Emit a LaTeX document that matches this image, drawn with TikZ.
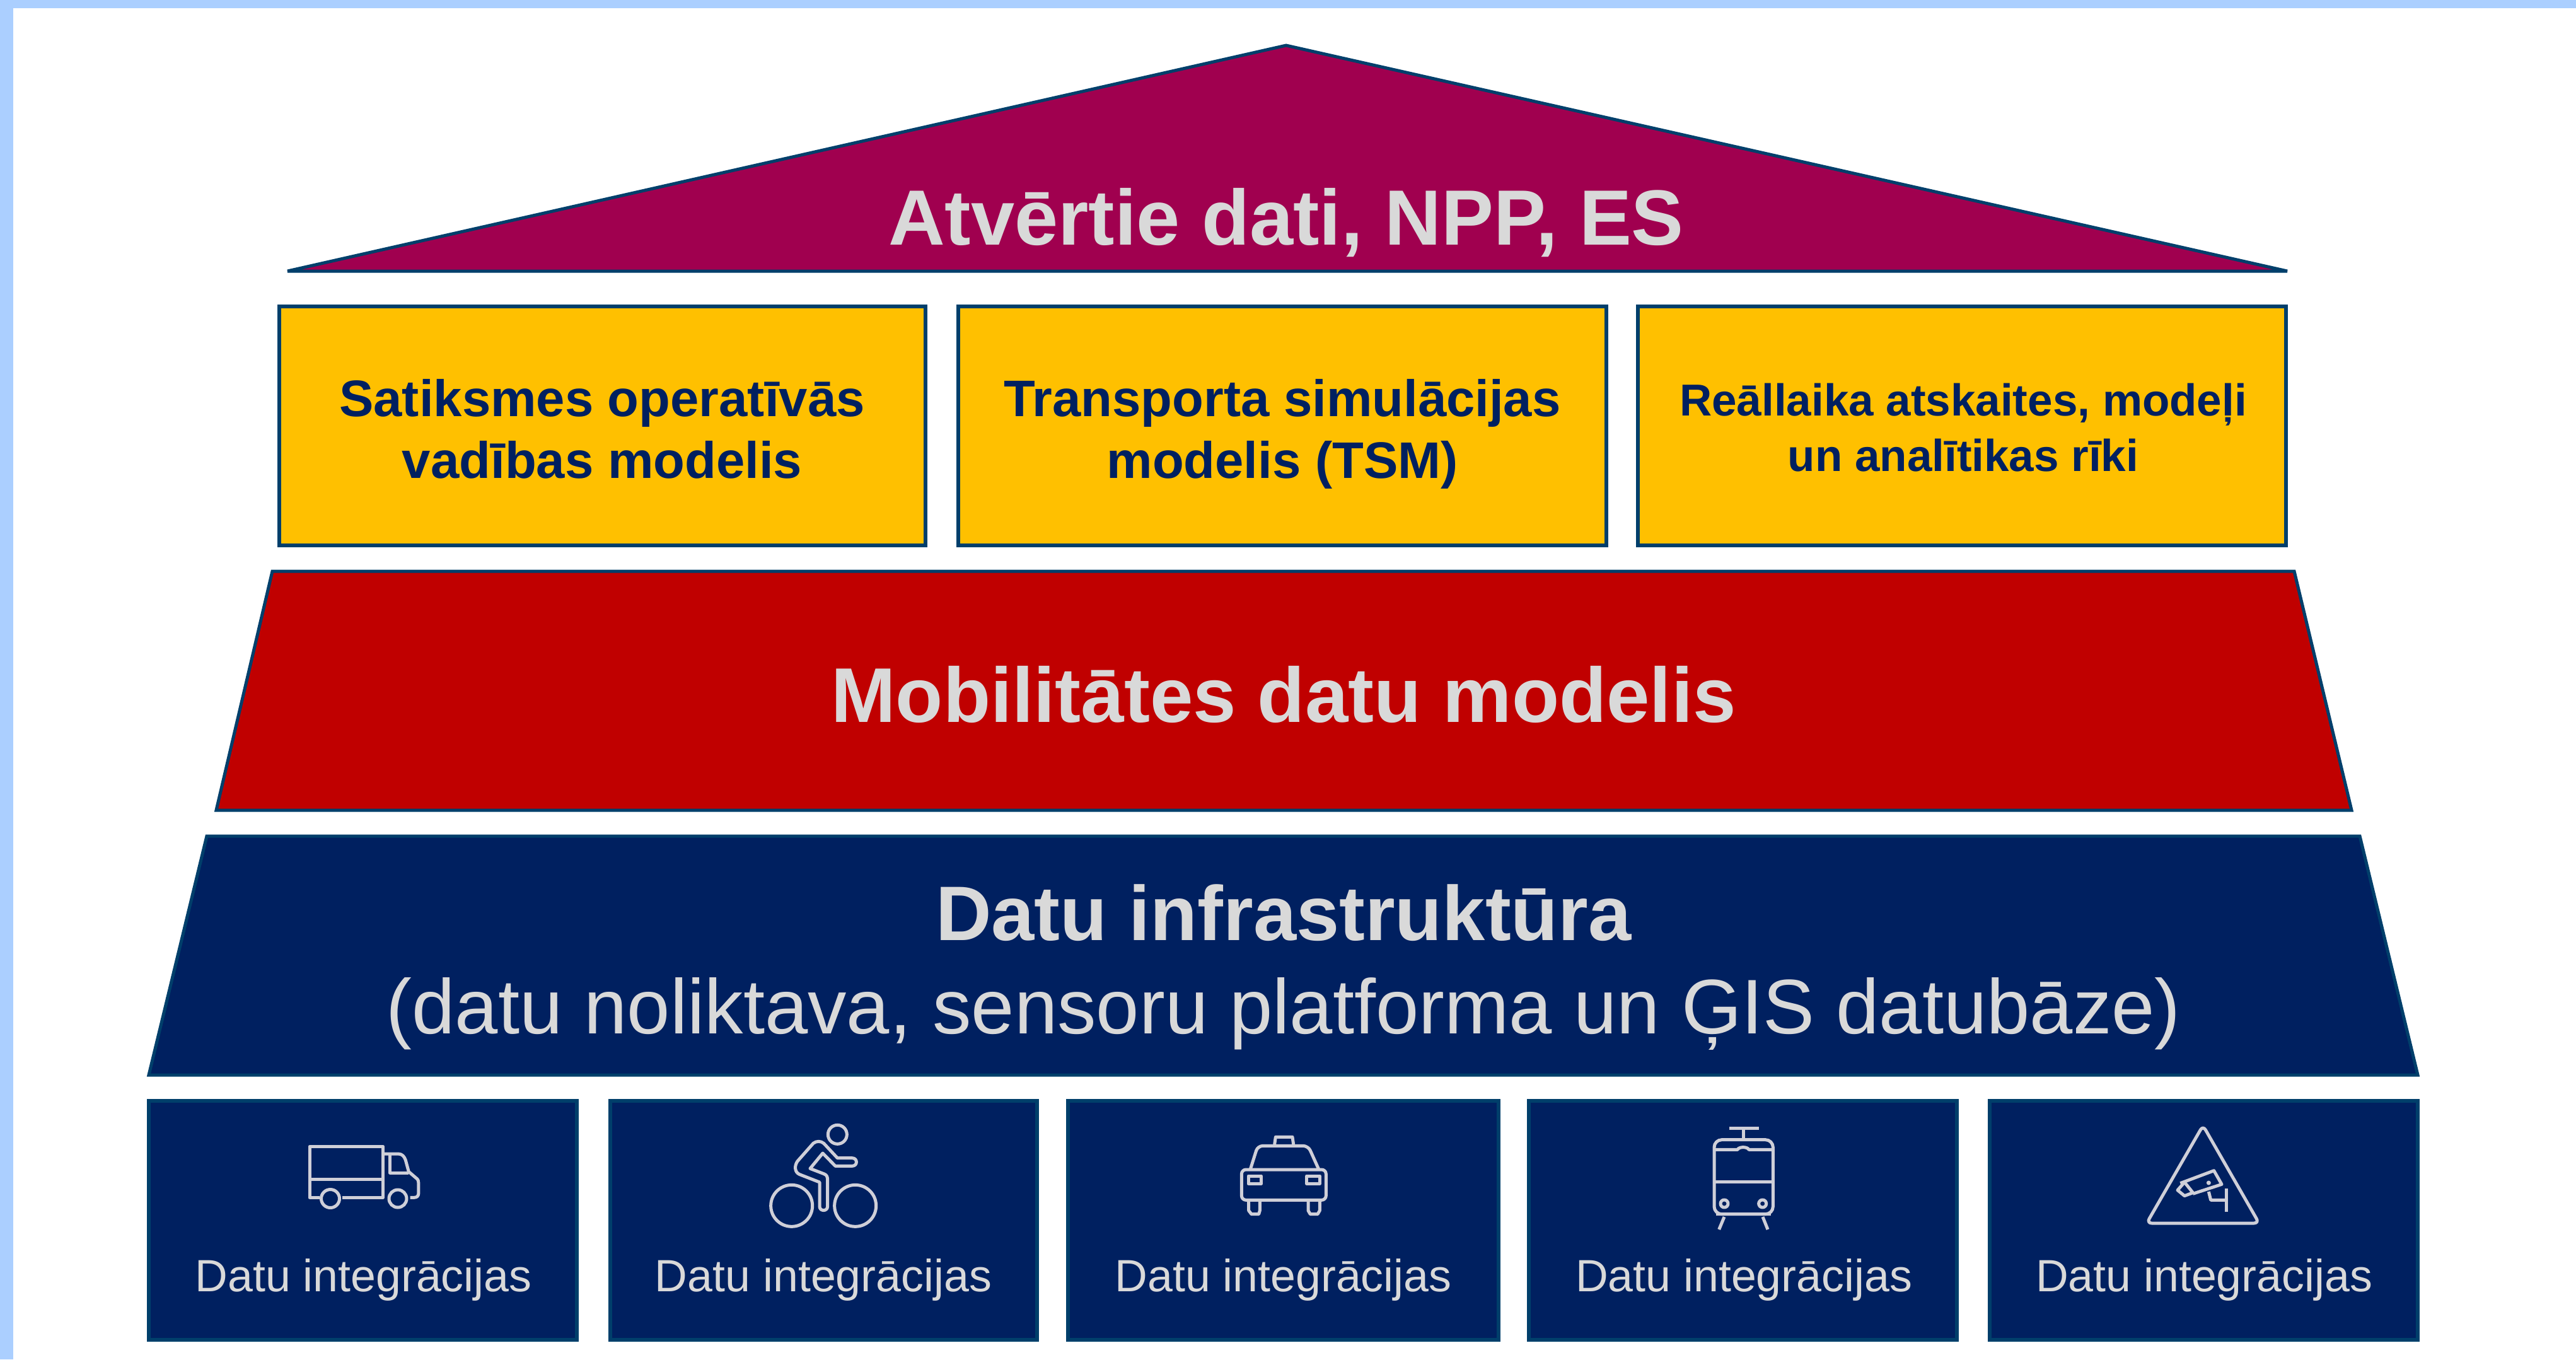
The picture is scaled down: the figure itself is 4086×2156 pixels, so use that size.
\documentclass[tikz,border=0pt]{standalone}
\usepackage{fontspec}
\setmainfont{Liberation Sans}
\definecolor{edgeblue}{HTML}{003F6B}
\definecolor{navy}{HTML}{002060}
\definecolor{roofc}{HTML}{A0004F}
\definecolor{redc}{HTML}{C00000}
\definecolor{yellowc}{HTML}{FFC000}
\definecolor{lightt}{HTML}{D9D9D9}
\definecolor{bandc}{HTML}{ABCFFF}
\definecolor{iconc}{HTML}{CFCFD8}
\tikzset{
  layer/.style={draw=edgeblue,line width=5pt,line join=miter,miter limit=4},
  ybox/.style={draw=edgeblue,line width=6pt,fill=yellowc,minimum height=379pt,inner sep=0pt,outer sep=0pt},
  ibox/.style={draw=edgeblue,line width=6pt,fill=navy,minimum height=379pt,inner sep=0pt,outer sep=0pt},
  ytext/.style={text=navy,align=center,font=\bfseries\fontsize{81.5}{98}\selectfont,inner sep=0pt},
  ytextb/.style={text=navy,align=center,font=\bfseries\fontsize{71}{88}\selectfont,inner sep=0pt},
  itext/.style={text=lightt,anchor=base,inner sep=0pt,font=\fontsize{71.7}{86}\selectfont},
  headt/.style={text=lightt,anchor=base,inner sep=0pt},
  icon/.style={draw=iconc,line width=5pt,line cap=butt,line join=round}
}
\begin{document}
\begin{tikzpicture}[x=1pt,y=-1pt]
\useasboundingbox (0,0) rectangle (4086,2156);
\fill[white] (0,0) rectangle (4086,2156);
\fill[bandc] (0,0) rectangle (4086,13);
\fill[bandc] (0,0) rectangle (21,2156);
% roof
\path[layer,fill=roofc] (2040,72) -- (3628,430) -- (456,430) -- cycle;
\node[headt,font=\bfseries\fontsize{124.3}{140}\selectfont] (roof) at (2040,388) {Atvērtie dati, NPP, ES};
% yellow boxes
\node[ybox,minimum width=1025pt] (y1) at (955,675.5) {};
\node[ybox,minimum width=1028pt] (y2) at (2034,675.5) {};
\node[ybox,minimum width=1028pt] (y3) at (3112,675.5) {};
\node[ytext] (t1) at (955,680) {Satiksmes operatīvās\\vadības modelis};
\node[ytext] (t2) at (2034,688) {Transporta simulācijas\\modelis (TSM)};
\node[ytextb] (t3) at (3114,678) {Reāllaika atskaites, modeļi\\un analītikas rīki};
% red
\path[layer,fill=redc] (432,906) -- (3639,906) -- (3730,1285) -- (343,1285) -- cycle;
\node[headt,font=\bfseries\fontsize{123}{140}\selectfont] (mob) at (2036,1145) {Mobilitātes datu modelis};
% infrastructure
\path[layer,fill=navy] (328,1326) -- (3743,1326) -- (3835,1705) -- (236,1705) -- cycle;
\node[headt,font=\bfseries\fontsize{122.6}{140}\selectfont] (inf1) at (2036,1491) {Datu infrastruktūra};
\node[headt,font=\fontsize{122.8}{140}\selectfont] (inf2) at (2036,1639) {(datu noliktava, sensoru platforma un ĢIS datubāze)};
% integration boxes
\node[ibox,minimum width=679pt] (b1) at (575.5,1935.5) {};
\node[ibox,minimum width=677pt] (b2) at (1306,1935.5) {};
\node[ibox,minimum width=683pt] (b3) at (2035.5,1935.5) {};
\node[ibox,minimum width=679pt] (b4) at (2764.5,1935.5) {};
\node[ibox,minimum width=679pt] (b5) at (3495.5,1935.5) {};
\node[itext] (i1) at (576.5,2048) {Datu integrācijas};
\node[itext] (i2) at (1306,2048) {Datu integrācijas};
\node[itext] (i3) at (2035.5,2048) {Datu integrācijas};
\node[itext] (i4) at (2766,2048) {Datu integrācijas};
\node[itext] (i5) at (3496,2048) {Datu integrācijas};
% truck
\begin{scope}[shift={(440,1760)},x=0.3333pt,y=-0.3333pt]
\draw[icon] (200,418) -- (153,418) -- (153,175) -- (503,175) -- (503,418) -- (310,418);
\draw[icon] (153,330) -- (503,330);
\draw[icon] (252,423) circle[radius=14.5pt];
\draw[icon] (573,423) circle[radius=14pt];
\draw[icon] (503,210) -- (575,210) .. controls (595,210) and (605,225) .. (610,240) -- (625,295) -- (660,325) .. controls (670,332) and (672,340) .. (672,350) -- (672,395) .. controls (672,410) and (665,418) .. (650,418) -- (632,418);
\draw[icon] (535,212) -- (535,300) -- (625,300);
\end{scope}
% cyclist
\begin{scope}[shift={(1150,1760)},x=0.3333pt,y=-0.3333pt]
\draw[icon] (535,118) circle[radius=15pt];
\draw[icon] (317,457) circle[radius=33pt];
\draw[icon] (620,457) circle[radius=33pt];
\draw[icon] (470,160) -- (535,230) -- (605,230) .. controls (632,230) and (632,268) .. (605,268) -- (525,268) -- (465,207) -- (405,280) -- (470,305) .. controls (485,310) and (488,320) .. (488,335) -- (488,460) .. controls (488,485) and (450,485) .. (450,460) -- (450,345) -- (355,308) .. controls (330,298) and (330,265) .. (345,245) -- (420,160) .. controls (435,148) and (455,148) .. (470,160) -- cycle;
\end{scope}
% car
\begin{scope}[shift={(1900,1760)},x=0.3333pt,y=-0.3333pt]
\draw[icon] (365,165) -- (370,130) -- (450,130) -- (455,165);
\draw[icon,rounded corners=8pt] (250,283) -- (285,172) -- (525,172) -- (575,283);
\draw[icon,rounded corners=7pt] (208,285) rectangle (610,430);
\draw[icon] (240,315) rectangle (302,352);
\draw[icon] (518,315) rectangle (580,352);
\draw[icon] (242,435) -- (242,480) -- (255,497) -- (290,497) -- (295,480) -- (295,435);
\draw[icon] (525,435) -- (525,480) -- (535,497) -- (570,497) -- (580,480) -- (580,435);
\end{scope}
% tram
\begin{scope}[shift={(2650,1760)},x=0.3333pt,y=-0.3333pt]
\draw[icon] (280,88) -- (420,88);
\draw[icon] (345,88) -- (345,143);
\draw[icon,rounded corners=12pt] (207,143) rectangle (487,497);
\draw[icon] (216,497) -- (478,497);
\draw[icon] (207,190) -- (318,190) .. controls (325,175) and (365,175) .. (372,190) -- (487,190);
\draw[icon] (207,343) -- (487,343);
\draw[icon] (255,447) circle[radius=6pt];
\draw[icon] (437,447) circle[radius=6pt];
\draw[icon] (255,510) -- (230,570);
\draw[icon] (438,510) -- (462,570);
\end{scope}
% camera sign
\begin{scope}[shift={(3350,1760)},x=0.3333pt,y=-0.3333pt]
\draw[icon,rounded corners=8pt] (433,75) -- (165,540) -- (700,540) -- cycle;
\draw[icon] (325,350) -- (485,290) -- (522,355) -- (385,400);
\draw[icon] (345,345) -- (385,395) -- (345,410) -- (312,383) -- cycle;
\draw[icon] (460,390) -- (470,430) -- (545,430);
\draw[icon] (545,375) -- (545,485);
\fill[iconc] (460,348) circle[radius=3.5pt];
\end{scope}
\end{tikzpicture}
\end{document}
